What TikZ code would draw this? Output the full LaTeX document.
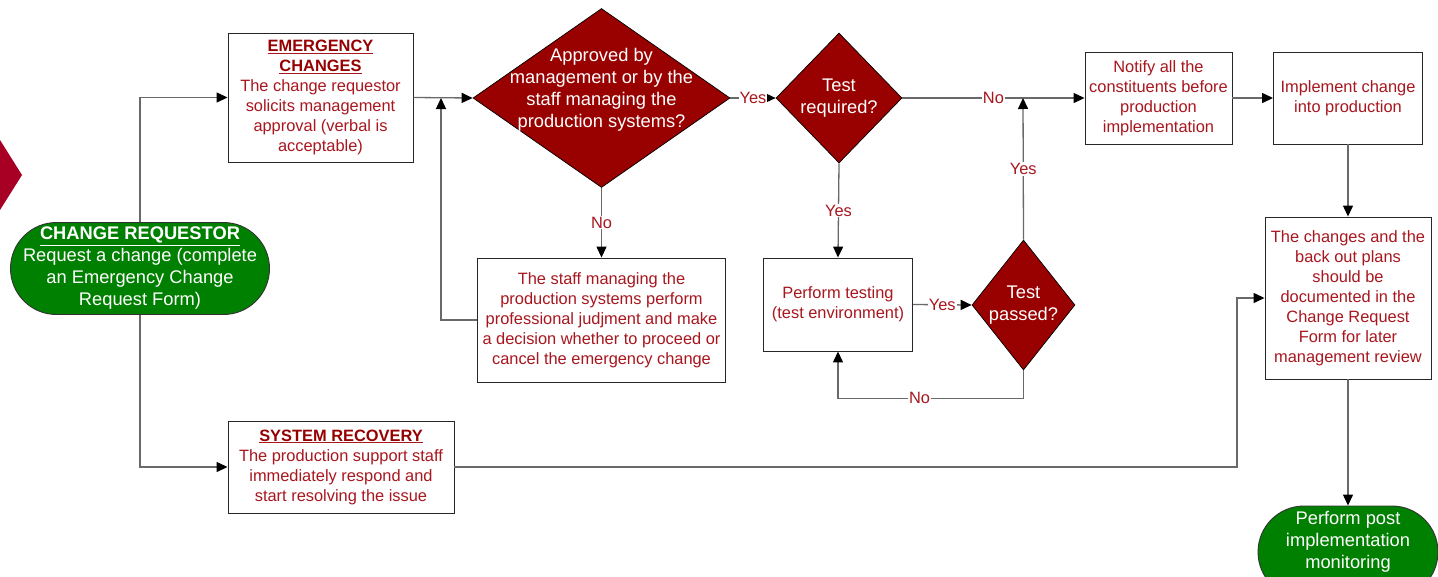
\documentclass[tikz,border=0pt]{standalone}
\usepackage{fontspec}
\setmainfont{Liberation Sans}
\usetikzlibrary{shapes.geometric,arrows.meta}
\definecolor{txtred}{RGB}{168,22,30}
\definecolor{hdred}{RGB}{150,0,0}
\definecolor{dred}{RGB}{153,0,0}
\definecolor{crim}{RGB}{168,0,36}
\definecolor{grn}{RGB}{0,128,0}
\definecolor{lgray}{RGB}{105,105,105}
\newcommand{\redfont}{\fontsize{16.4}{20}\selectfont}
\newcommand{\whfont}{\fontsize{18.3}{22}\selectfont}
\newcommand{\hd}[1]{\underline{\textbf{\color{hdred}#1}}}
\begin{document}
\begin{tikzpicture}[x=1pt,y=-1pt,
  box/.style={draw=black!85,line width=0.9pt,fill=white,rectangle,inner sep=2pt,align=center,text=txtred,font=\redfont},
  dec/.style={draw=black,line width=0.7pt,fill=dred,diamond,inner sep=0pt},
  dectext/.style={text=white,font=\whfont,align=center},
  term/.style={draw=black!80,line width=0.9pt,fill=grn,rectangle,rounded corners=46pt,align=center,text=white,font=\whfont,inner sep=0pt},
  conn/.style={draw=lgray,line width=1.3pt,-{Triangle[length=11pt,width=10pt,color=black]}},
  lbl/.style={fill=white,inner sep=1pt,text=txtred,font=\redfont}]
\useasboundingbox (0,0) rectangle (1438,576);
% partial shape at left edge
\fill[crim] (0,140) -- (22,175) -- (0,210) -- cycle;

\node[term,minimum width=259pt,minimum height=92pt] (cr) at (140,268.5)
  {\underline{\textbf{CHANGE REQUESTOR}}\\Request a change (complete\\an Emergency Change\\Request Form)};

\node[box,minimum width=185pt,minimum height=129pt] (ec) at (320.5,97.5)
  {\hd{EMERGENCY}\\\hd{CHANGES}\\The change requestor\\solicits management\\approval (verbal is\\acceptable)};

\node[box,minimum width=226pt,minimum height=92pt] (sr) at (341,467)
  {\hd{SYSTEM RECOVERY}\\The production support staff\\immediately respond and\\start resolving the issue};

\node[dec,minimum width=257pt,minimum height=179pt,
  label={[dectext,yshift=8pt]center:Approved by\\management or by the\\staff managing the\\production systems?}] (d1) at (601.5,98) {};

\node[box,minimum width=248pt,minimum height=124pt] (staff) at (601.5,320)
  {The staff managing the\\production systems perform\\professional judjment and make\\a decision whether to proceed or\\cancel the emergency change};

\node[dec,minimum width=126pt,minimum height=130pt,
  label={[dectext]center:Test\\required?}] (d2) at (839,98) {};

\node[box,minimum width=149pt,minimum height=93pt] (test) at (838,304.5)
  {Perform testing\\(test environment)};

\node[dec,minimum width=103pt,minimum height=130pt,
  label={[dectext]center:Test\\passed?}] (d3) at (1023.5,305) {};

\node[box,minimum width=147pt,minimum height=92pt] (notify) at (1158.5,98)
  {Notify all the\\constituents before\\production\\implementation};

\node[box,minimum width=149pt,minimum height=92pt] (impl) at (1348,98)
  {Implement change\\into production};

\node[box,minimum width=166pt,minimum height=162pt] (changes) at (1348,298)
  {The changes and the\\back out plans\\should be\\documented in the\\Change Request\\Form for later\\management review};

\node[term,minimum width=180pt,minimum height=92pt,
  label={[text=white,font=\whfont,align=center,yshift=10pt]center:Perform post\\implementation\\monitoring}] (mon) at (1348,552) {};

\coordinate (j1) at (441,98);
\coordinate (j2) at (1023,98);
\coordinate (bend) at (1237,467);

% connectors
\draw[conn] (cr.north) |- (ec.west);
\draw[conn] (cr.south) |- (sr.west);
\draw[conn] (ec.east) -- (d1.west);
\draw[conn] (d1.east) -- node[lbl]{Yes} (d2.west);
\draw[conn] (d2.east) -- node[lbl]{No} (notify.west);
\draw[conn] (notify.east) -- (impl.west);
\draw[conn] (impl.south) -- (changes.north);
\draw[conn] (changes.south) -- (mon.north);
\draw[conn] (d1.south) -- node[lbl]{No} (staff.north);
\draw[conn] (staff.west) -| (j1);
\draw[conn] (d2.south) -- node[lbl]{Yes} (test.north);
\draw[conn] (test.east) -- node[lbl]{Yes} (d3.west);
\draw[conn] (d3.south) |- ++(0,28) -| node[lbl,pos=0.28]{No} (test.south);
\draw[conn] (d3.north) -- node[lbl]{Yes} (j2);
\draw[conn] (sr.east) -- (bend) |- (changes.west);
\end{tikzpicture}
\end{document}
